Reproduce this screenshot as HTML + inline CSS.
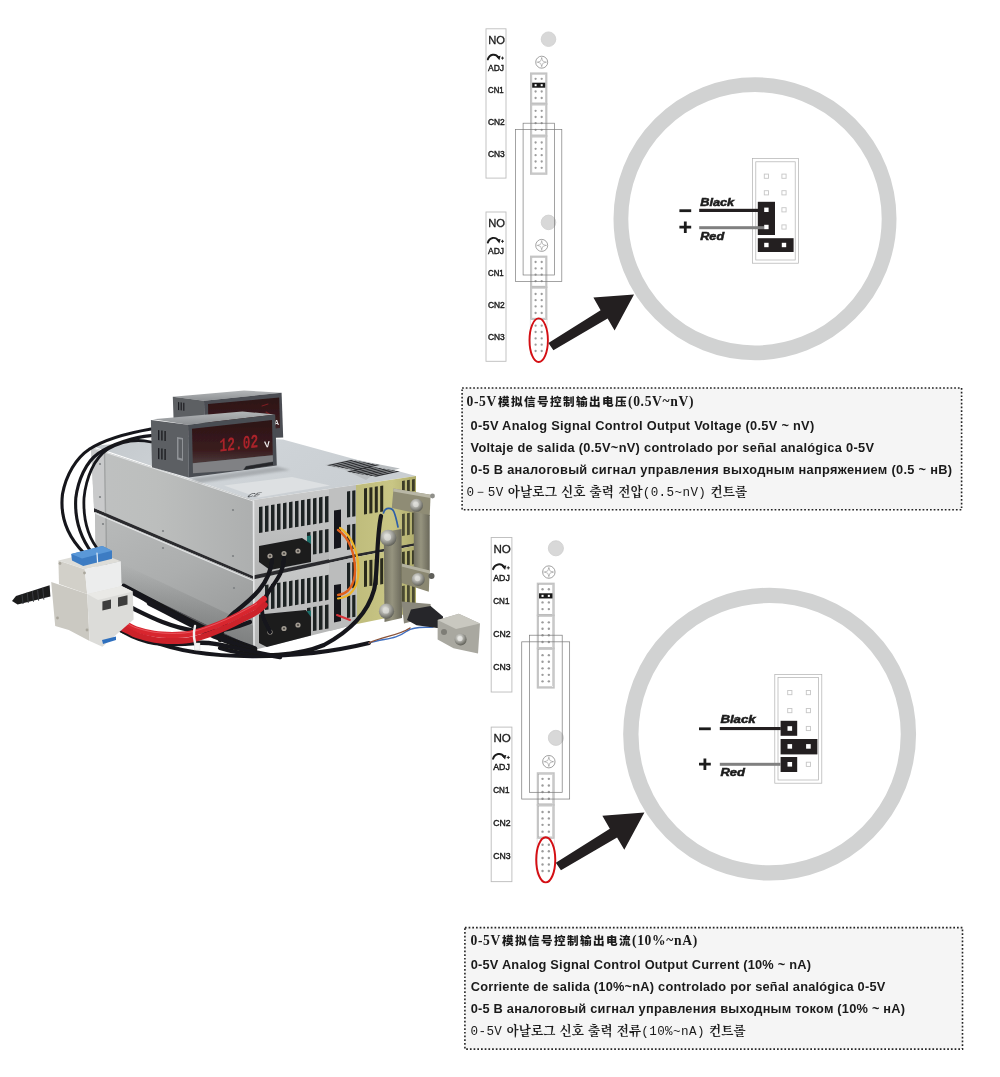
<!DOCTYPE html>
<html lang="en">
<head>
<meta charset="utf-8">
<title>0-5V Analog Signal Control</title>
<style>
html,body{margin:0;padding:0;background:#fff;}
body{width:1000px;height:1077px;position:relative;overflow:hidden;font-family:"Liberation Sans","Noto Sans CJK SC",sans-serif;}
#art{position:absolute;left:0;top:0;width:1000px;height:1077px;}
.box{position:absolute;opacity:0.999;}
.box div{position:absolute;white-space:nowrap;color:#1a1a1a;line-height:16px;height:16px;}
.zh{font-family:"Liberation Serif","Noto Sans CJK SC",serif;font-weight:bold;font-size:13.6px;left:4px;letter-spacing:0.65px;}
.zh b{font-family:"Noto Sans CJK SC",sans-serif;font-weight:900;letter-spacing:1.4px;font-size:11.6px;margin-left:1px;}
.en{font-family:"Liberation Sans",sans-serif;font-weight:bold;font-size:12.8px;left:8px;letter-spacing:0.3px;}
.ko{font-family:"Liberation Mono","Noto Serif CJK SC","NanumGothic",serif;font-weight:bold;font-size:12.6px;left:4px;letter-spacing:0.1px;word-spacing:-3.6px;}
.ko i{font-style:normal;font-weight:normal;font-family:"Liberation Mono",monospace;letter-spacing:0.4px;}
</style>
</head>
<body>
<svg id="art" width="1000" height="1077" viewBox="0 0 1000 1077">
<defs>
<!--PDEFS-->
<linearGradient id="gSide" x1="0" y1="0" x2="1" y2="0"><stop offset="0" stop-color="#bfc1c1"/><stop offset="0.4" stop-color="#bcbebd"/><stop offset="1" stop-color="#adafaf"/></linearGradient>
<linearGradient id="gSide2" x1="0" y1="0" x2="0.6" y2="1"><stop offset="0" stop-color="#b9bbbb"/><stop offset="0.55" stop-color="#acaeae"/><stop offset="1" stop-color="#9a9c9c"/></linearGradient>
<linearGradient id="gTop" x1="0" y1="0" x2="1" y2="0.3"><stop offset="0" stop-color="#c3c8cc"/><stop offset="0.5" stop-color="#cfd4d8"/><stop offset="1" stop-color="#c9ced2"/></linearGradient>
<linearGradient id="gFront" x1="0" y1="0" x2="0" y2="1"><stop offset="0" stop-color="#c9caca"/><stop offset="1" stop-color="#b3b4b4"/></linearGradient>
<linearGradient id="gYel" x1="0" y1="0" x2="1" y2="0"><stop offset="0" stop-color="#bfbc7c"/><stop offset="0.6" stop-color="#c9c685"/><stop offset="1" stop-color="#aeab6a"/></linearGradient>
<linearGradient id="gBar" x1="0" y1="0" x2="1" y2="0"><stop offset="0" stop-color="#716f60"/><stop offset="0.45" stop-color="#96947f"/><stop offset="1" stop-color="#6a685a"/></linearGradient>
<linearGradient id="gMeterTop" x1="0" y1="0" x2="0" y2="1"><stop offset="0" stop-color="#b3b6b8"/><stop offset="1" stop-color="#8d9093"/></linearGradient>
<linearGradient id="gDisp" x1="0" y1="0" x2="0" y2="1"><stop offset="0" stop-color="#2c1416"/><stop offset="0.7" stop-color="#3a1c1e"/><stop offset="1" stop-color="#4a3a3a"/></linearGradient>
<radialGradient id="gBolt" cx="0.4" cy="0.35" r="0.7"><stop offset="0" stop-color="#e8e8e4"/><stop offset="0.5" stop-color="#a6a6a0"/><stop offset="1" stop-color="#57574f"/></radialGradient>
<filter id="soft" x="-5%" y="-5%" width="110%" height="110%"><feGaussianBlur stdDeviation="0.45"/></filter>
<filter id="soft2" x="-20%" y="-20%" width="140%" height="140%"><feGaussianBlur stdDeviation="1.2"/></filter>
<!--/PDEFS-->
<g id="strip"><rect x="486" y="28.8" width="20" height="149.3" fill="#fff" stroke="#bdbdbd" stroke-width="0.9"/>
<text x="488.2" y="43.6" font-size="11.2" fill="#1c1c1c" stroke="#1c1c1c" stroke-width="0.3" textLength="16.8" lengthAdjust="spacingAndGlyphs">NO</text>
<path d="M487.8 59.400000000000006 C489.5 54.2,495.5 53.0,498.3 57.400000000000006" fill="none" stroke="#1c1c1c" stroke-width="1.9" stroke-linecap="round"/>
<path d="M496.4 56.400000000000006 L500.6 55.8 L499.4 60.2 Z" fill="#1c1c1c"/>
<path d="M501 58.1 h3 M502.5 56.6 v3" stroke="#1c1c1c" stroke-width="0.9" fill="none"/>
<text x="488" y="70.6" font-size="8.5" fill="#1c1c1c" stroke="#1c1c1c" stroke-width="0.4" textLength="16" lengthAdjust="spacingAndGlyphs">ADJ</text>
<text x="488" y="92.6" font-size="8.4" fill="#1c1c1c" stroke="#1c1c1c" stroke-width="0.4" textLength="15.6" lengthAdjust="spacingAndGlyphs">CN1</text>
<text x="488" y="124.6" font-size="8.4" fill="#1c1c1c" stroke="#1c1c1c" stroke-width="0.4" textLength="16.8" lengthAdjust="spacingAndGlyphs">CN2</text>
<text x="488" y="156.6" font-size="8.4" fill="#1c1c1c" stroke="#1c1c1c" stroke-width="0.4" textLength="16.8" lengthAdjust="spacingAndGlyphs">CN3</text><rect x="486" y="212" width="20" height="149.3" fill="#fff" stroke="#bdbdbd" stroke-width="0.9"/>
<text x="488.2" y="226.8" font-size="11.2" fill="#1c1c1c" stroke="#1c1c1c" stroke-width="0.3" textLength="16.8" lengthAdjust="spacingAndGlyphs">NO</text>
<path d="M487.8 242.6 C489.5 237.4,495.5 236.2,498.3 240.6" fill="none" stroke="#1c1c1c" stroke-width="1.9" stroke-linecap="round"/>
<path d="M496.4 239.6 L500.6 239.0 L499.4 243.4 Z" fill="#1c1c1c"/>
<path d="M501 241.3 h3 M502.5 239.8 v3" stroke="#1c1c1c" stroke-width="0.9" fill="none"/>
<text x="488" y="253.8" font-size="8.5" fill="#1c1c1c" stroke="#1c1c1c" stroke-width="0.4" textLength="16" lengthAdjust="spacingAndGlyphs">ADJ</text>
<text x="488" y="275.8" font-size="8.4" fill="#1c1c1c" stroke="#1c1c1c" stroke-width="0.4" textLength="15.6" lengthAdjust="spacingAndGlyphs">CN1</text>
<text x="488" y="307.8" font-size="8.4" fill="#1c1c1c" stroke="#1c1c1c" stroke-width="0.4" textLength="16.8" lengthAdjust="spacingAndGlyphs">CN2</text>
<text x="488" y="339.8" font-size="8.4" fill="#1c1c1c" stroke="#1c1c1c" stroke-width="0.4" textLength="16.8" lengthAdjust="spacingAndGlyphs">CN3</text><circle cx="548.5" cy="39.20" r="7.3" fill="#d8d8d8" stroke="#cfcfcf" stroke-width="0.8"/>
<circle cx="541.7" cy="62.20" r="6" fill="#fff" stroke="#8c8c8c" stroke-width="0.8"/>
<path d="M541.7 58.20 l1.1 2.9 l2.9 1.1 l-2.9 1.1 l-1.1 2.9 l-1.1 -2.9 l-2.9 -1.1 l2.9 -1.1 Z" fill="#fff" stroke="#9a9a9a" stroke-width="0.6"/>
<path d="M541.7 57.00 v2 M541.7 65.40 v2 M536.5 62.20 h2 M544.9 62.20 h2" stroke="#9a9a9a" stroke-width="0.6"/>
<rect x="530.8" y="73.20" width="15.8" height="30.8" fill="#fff" stroke="#c4c4c4" stroke-width="1.6"/>
<rect x="530.8" y="104.00" width="15.8" height="32" fill="#fff" stroke="#c4c4c4" stroke-width="1.6"/>
<rect x="531.9" y="74.30" width="13.6" height="28.6" fill="none" stroke="#9b9b9b" stroke-width="0.4"/>
<rect x="531.9" y="105.10" width="13.6" height="29.8" fill="none" stroke="#9b9b9b" stroke-width="0.4"/><rect x="530.8" y="136.00" width="15.8" height="38" fill="#fff" stroke="#c4c4c4" stroke-width="1.6"/>
<rect x="531.9" y="137.10" width="13.6" height="35.8" fill="none" stroke="#9b9b9b" stroke-width="0.4"/><circle cx="535.60" cy="78.80" r="1.15" fill="#9c9c9c"/><circle cx="541.70" cy="78.80" r="1.15" fill="#9c9c9c"/><circle cx="535.60" cy="85.20" r="1.15" fill="#9c9c9c"/><circle cx="541.70" cy="85.20" r="1.15" fill="#9c9c9c"/><circle cx="535.60" cy="91.50" r="1.15" fill="#9c9c9c"/><circle cx="541.70" cy="91.50" r="1.15" fill="#9c9c9c"/><circle cx="535.60" cy="98.00" r="1.15" fill="#9c9c9c"/><circle cx="541.70" cy="98.00" r="1.15" fill="#9c9c9c"/><circle cx="535.60" cy="110.80" r="1.15" fill="#9c9c9c"/><circle cx="541.70" cy="110.80" r="1.15" fill="#9c9c9c"/><circle cx="535.60" cy="117.00" r="1.15" fill="#9c9c9c"/><circle cx="541.70" cy="117.00" r="1.15" fill="#9c9c9c"/><circle cx="535.60" cy="123.20" r="1.15" fill="#9c9c9c"/><circle cx="541.70" cy="123.20" r="1.15" fill="#9c9c9c"/><circle cx="535.60" cy="129.80" r="1.15" fill="#9c9c9c"/><circle cx="541.70" cy="129.80" r="1.15" fill="#9c9c9c"/><circle cx="535.60" cy="142.50" r="1.15" fill="#9c9c9c"/><circle cx="541.70" cy="142.50" r="1.15" fill="#9c9c9c"/><circle cx="535.60" cy="148.80" r="1.15" fill="#9c9c9c"/><circle cx="541.70" cy="148.80" r="1.15" fill="#9c9c9c"/><circle cx="535.60" cy="155.20" r="1.15" fill="#9c9c9c"/><circle cx="541.70" cy="155.20" r="1.15" fill="#9c9c9c"/><circle cx="535.60" cy="161.50" r="1.15" fill="#9c9c9c"/><circle cx="541.70" cy="161.50" r="1.15" fill="#9c9c9c"/><circle cx="535.60" cy="167.80" r="1.15" fill="#9c9c9c"/><circle cx="541.70" cy="167.80" r="1.15" fill="#9c9c9c"/><rect x="532.2" y="82.70" width="13" height="5" fill="#1a1a1a"/>
<rect x="534.6" y="84.20" width="2" height="2" fill="#fff"/><rect x="540.7" y="84.20" width="2" height="2" fill="#fff"/><circle cx="548.5" cy="222.40" r="7.3" fill="#d8d8d8" stroke="#cfcfcf" stroke-width="0.8"/>
<circle cx="541.7" cy="245.40" r="6" fill="#fff" stroke="#8c8c8c" stroke-width="0.8"/>
<path d="M541.7 241.40 l1.1 2.9 l2.9 1.1 l-2.9 1.1 l-1.1 2.9 l-1.1 -2.9 l-2.9 -1.1 l2.9 -1.1 Z" fill="#fff" stroke="#9a9a9a" stroke-width="0.6"/>
<path d="M541.7 240.20 v2 M541.7 248.60 v2 M536.5 245.40 h2 M544.9 245.40 h2" stroke="#9a9a9a" stroke-width="0.6"/>
<rect x="530.8" y="256.40" width="15.8" height="30.8" fill="#fff" stroke="#c4c4c4" stroke-width="1.6"/>
<rect x="530.8" y="287.20" width="15.8" height="32" fill="#fff" stroke="#c4c4c4" stroke-width="1.6"/>
<rect x="531.9" y="257.50" width="13.6" height="28.6" fill="none" stroke="#9b9b9b" stroke-width="0.4"/>
<rect x="531.9" y="288.30" width="13.6" height="29.8" fill="none" stroke="#9b9b9b" stroke-width="0.4"/><path d="M530.4 319.20 V355.20 M547 319.20 V329.20" stroke="#dcdcdc" stroke-width="0.8" fill="none"/><circle cx="535.60" cy="262.00" r="1.15" fill="#9c9c9c"/><circle cx="541.70" cy="262.00" r="1.15" fill="#9c9c9c"/><circle cx="535.60" cy="268.40" r="1.15" fill="#9c9c9c"/><circle cx="541.70" cy="268.40" r="1.15" fill="#9c9c9c"/><circle cx="535.60" cy="274.70" r="1.15" fill="#9c9c9c"/><circle cx="541.70" cy="274.70" r="1.15" fill="#9c9c9c"/><circle cx="535.60" cy="281.20" r="1.15" fill="#9c9c9c"/><circle cx="541.70" cy="281.20" r="1.15" fill="#9c9c9c"/><circle cx="535.60" cy="294.00" r="1.15" fill="#9c9c9c"/><circle cx="541.70" cy="294.00" r="1.15" fill="#9c9c9c"/><circle cx="535.60" cy="300.20" r="1.15" fill="#9c9c9c"/><circle cx="541.70" cy="300.20" r="1.15" fill="#9c9c9c"/><circle cx="535.60" cy="306.40" r="1.15" fill="#9c9c9c"/><circle cx="541.70" cy="306.40" r="1.15" fill="#9c9c9c"/><circle cx="535.60" cy="313.00" r="1.15" fill="#9c9c9c"/><circle cx="541.70" cy="313.00" r="1.15" fill="#9c9c9c"/><circle cx="535.60" cy="325.70" r="1.15" fill="#9c9c9c"/><circle cx="541.70" cy="325.70" r="1.15" fill="#9c9c9c"/><circle cx="535.60" cy="332.00" r="1.15" fill="#9c9c9c"/><circle cx="541.70" cy="332.00" r="1.15" fill="#9c9c9c"/><circle cx="535.60" cy="338.40" r="1.15" fill="#9c9c9c"/><circle cx="541.70" cy="338.40" r="1.15" fill="#9c9c9c"/><circle cx="535.60" cy="344.70" r="1.15" fill="#9c9c9c"/><circle cx="541.70" cy="344.70" r="1.15" fill="#9c9c9c"/><circle cx="535.60" cy="351.00" r="1.15" fill="#9c9c9c"/><circle cx="541.70" cy="351.00" r="1.15" fill="#9c9c9c"/><rect x="515.5" y="129.6" width="46.3" height="151.9" fill="none" stroke="#7c7c7c" stroke-width="0.7"/>
<rect x="523.1" y="123.2" width="31.5" height="151.8" fill="none" stroke="#7c7c7c" stroke-width="0.7"/>
<ellipse cx="538.7" cy="340.2" rx="9.2" ry="21.8" fill="none" stroke="#d40f14" stroke-width="1.9"/>
<path d="M548.4 343 L600.6 310.3 L593.4 297.6 L634 294.5 L614.6 330.5 L607.6 318.6 L553.4 350.2 Z" fill="#231f20"/>
<circle cx="755" cy="218.8" r="134.1" fill="none" stroke="#d1d2d2" stroke-width="14.8"/></g>
</defs>
<!--BOXES-->
<g id="boxes" fill="#f5f5f5" stroke="#242424" stroke-width="1.6" stroke-dasharray="1.7 2.0">
<rect x="462.1" y="388" width="499.5" height="121.8"/>
<rect x="464.9" y="927.6" width="497.6" height="121.5"/>
</g>
<!--PHOTO-->
<g id="photo" filter="url(#soft)"><polygon points="92.0,446.0 253.0,500.0 416.0,476.0 283.0,439.4 200.0,436.0" fill="url(#gTop)" /><polygon points="91.0,447.0 253.0,500.0 253.0,576.0 94.0,508.0" fill="url(#gSide)" /><polygon points="94.0,508.0 253.0,576.0 253.0,579.0 94.0,512.0" fill="#2a2b2d" /><polygon points="95.0,512.0 253.0,579.0 254.0,647.0 122.0,584.0 96.0,566.0" fill="url(#gSide2)" /><polygon points="91.0,447.0 104.0,451.3 105.0,512.5 94.0,508.0" fill="#c9cacb" /><path d="M104.5 451.5 L105.5 512.5" fill="none" stroke="#a2a4a4" stroke-width="1.4" stroke-linecap="round" stroke-linejoin="round" /><polygon points="95.0,512.0 106.0,516.6 106.0,573.0 96.0,566.0" fill="#bfc0c0" /><path d="M106 516.8 L106.5 573" fill="none" stroke="#999b9b" stroke-width="1.2" stroke-linecap="round" stroke-linejoin="round" /><linearGradient id="gRefl" x1="0" y1="0" x2="-0.38" y2="1"><stop offset="0" stop-color="#6a6c6c" stop-opacity="0"/><stop offset="0.5" stop-color="#6a6c6c" stop-opacity="0.55"/><stop offset="1" stop-color="#3a3c3c" stop-opacity="0.95"/></linearGradient><polygon points="112.0,559.0 254.0,626.0 254.0,647.0 122.0,584.0 100.0,568.0" fill="url(#gRefl)" /><path d="M96 513.5 L253 580.5" fill="none" stroke="#e4e6e7" stroke-width="1.2" stroke-linecap="round" stroke-linejoin="round" /><path d="M92 448 L253 501" fill="none" stroke="#e1e3e4" stroke-width="1.0" stroke-linecap="round" stroke-linejoin="round" /><polygon points="122.0,584.0 254.0,647.0 254.0,652.0 150.0,606.0" fill="#2c2d2f" opacity="0.8"/><circle cx="100" cy="464" r="1.1" fill="#7d8083"/><circle cx="100" cy="497" r="1.1" fill="#7d8083"/><circle cx="163" cy="531" r="1.1" fill="#7d8083"/><circle cx="233" cy="510" r="1.1" fill="#7d8083"/><circle cx="233" cy="556" r="1.1" fill="#7d8083"/><circle cx="103" cy="524" r="1.1" fill="#7d8083"/><circle cx="163" cy="548" r="1.1" fill="#7d8083"/><circle cx="234" cy="588" r="1.1" fill="#7d8083"/><circle cx="234" cy="628" r="1.1" fill="#7d8083"/><polygon points="253.0,500.0 356.0,485.0 356.0,554.0 253.0,576.0" fill="url(#gFront)" /><polygon points="253.0,579.0 356.0,557.0 357.0,624.0 254.0,650.0" fill="url(#gFront)" /><polygon points="253.0,575.5 356.0,553.5 416.0,542.5 416.0,545.5 356.0,557.0 253.0,579.5" fill="#2b2c2e" /><path d="M253.5 501 L254 649" fill="none" stroke="#e6e7e8" stroke-width="1.6" stroke-linecap="round" stroke-linejoin="round" /><polygon points="356.0,485.0 416.0,476.0 416.0,543.0 356.0,554.0" fill="url(#gYel)" /><polygon points="356.0,557.0 416.0,545.5 416.0,612.0 357.0,624.0" fill="url(#gYel)" /><polygon points="329.0,489.0 356.0,485.0 356.0,554.0 329.0,560.0" fill="#bfc0c0" /><polygon points="329.0,563.0 356.0,557.0 357.0,624.0 330.0,631.0" fill="#bbbcbc" /><polygon points="259.0,507.0 262.5,506.4 262.5,532.4 259.0,533.0" fill="#1f2022" rx="1"/><polygon points="265.0,506.0 268.5,505.5 268.5,531.5 265.0,532.0" fill="#1f2022" rx="1"/><polygon points="271.0,505.1 274.5,504.5 274.5,530.5 271.0,531.1" fill="#1f2022" rx="1"/><polygon points="277.0,504.1 280.5,503.6 280.5,529.6 277.0,530.1" fill="#1f2022" rx="1"/><polygon points="283.0,503.2 286.5,502.6 286.5,528.6 283.0,529.2" fill="#1f2022" rx="1"/><polygon points="289.0,502.2 292.5,501.6 292.5,527.6 289.0,528.2" fill="#1f2022" rx="1"/><polygon points="295.0,501.2 298.5,500.7 298.5,526.7 295.0,527.2" fill="#1f2022" rx="1"/><polygon points="301.0,500.3 304.5,499.7 304.5,525.7 301.0,526.3" fill="#1f2022" rx="1"/><polygon points="307.0,499.3 310.5,498.8 310.5,524.8 307.0,525.3" fill="#1f2022" rx="1"/><polygon points="313.0,498.4 316.5,497.8 316.5,523.8 313.0,524.4" fill="#1f2022" rx="1"/><polygon points="319.0,497.4 322.5,496.8 322.5,522.8 319.0,523.4" fill="#1f2022" rx="1"/><polygon points="325.0,496.4 328.5,495.9 328.5,521.9 325.0,522.4" fill="#1f2022" rx="1"/><polygon points="307.0,532.5 310.5,531.9 310.5,554.9 307.0,555.5" fill="#1f2022" rx="1"/><polygon points="313.0,531.5 316.5,531.0 316.5,554.0 313.0,554.5" fill="#1f2022" rx="1"/><polygon points="319.0,530.6 322.5,530.0 322.5,553.0 319.0,553.6" fill="#1f2022" rx="1"/><polygon points="325.0,529.6 328.5,529.1 328.5,552.1 325.0,552.6" fill="#1f2022" rx="1"/><polygon points="265.0,585.0 268.5,584.4 268.5,609.4 265.0,610.0" fill="#1f2022" rx="1"/><polygon points="271.0,584.0 274.5,583.5 274.5,608.5 271.0,609.0" fill="#1f2022" rx="1"/><polygon points="277.0,583.1 280.5,582.5 280.5,607.5 277.0,608.1" fill="#1f2022" rx="1"/><polygon points="283.0,582.1 286.5,581.6 286.5,606.6 283.0,607.1" fill="#1f2022" rx="1"/><polygon points="289.0,581.2 292.5,580.6 292.5,605.6 289.0,606.2" fill="#1f2022" rx="1"/><polygon points="295.0,580.2 298.5,579.6 298.5,604.6 295.0,605.2" fill="#1f2022" rx="1"/><polygon points="301.0,579.2 304.5,578.7 304.5,603.7 301.0,604.2" fill="#1f2022" rx="1"/><polygon points="307.0,578.3 310.5,577.7 310.5,602.7 307.0,603.3" fill="#1f2022" rx="1"/><polygon points="313.0,577.3 316.5,576.8 316.5,601.8 313.0,602.3" fill="#1f2022" rx="1"/><polygon points="319.0,576.4 322.5,575.8 322.5,600.8 319.0,601.4" fill="#1f2022" rx="1"/><polygon points="325.0,575.4 328.5,574.8 328.5,599.8 325.0,600.4" fill="#1f2022" rx="1"/><polygon points="307.0,608.0 310.5,607.4 310.5,631.4 307.0,632.0" fill="#1f2022" rx="1"/><polygon points="313.0,607.0 316.5,606.5 316.5,630.5 313.0,631.0" fill="#1f2022" rx="1"/><polygon points="319.0,606.1 322.5,605.5 322.5,629.5 319.0,630.1" fill="#1f2022" rx="1"/><polygon points="325.0,605.1 328.5,604.6 328.5,628.6 325.0,629.1" fill="#1f2022" rx="1"/><polygon points="307.0,536.0 311.0,535.4 311.0,552.0 307.0,553.0" fill="#1f6f6a" /><polygon points="307.0,611.0 311.0,610.4 311.0,628.0 307.0,629.0" fill="#1f6f6a" /><polygon points="334.0,510.5 341.0,509.4 341.0,547.5 334.0,549.0" fill="#17181a" /><polygon points="334.0,585.0 341.0,584.0 341.0,621.0 334.0,622.5" fill="#17181a" /><polygon points="347.0,491.5 350.2,491.0 350.2,517.0 347.0,517.5" fill="#1f2022" rx="1"/><polygon points="352.2,490.7 355.4,490.2 355.4,516.2 352.2,516.7" fill="#1f2022" rx="1"/><polygon points="347.0,525.0 350.2,524.5 350.2,549.5 347.0,550.0" fill="#1f2022" rx="1"/><polygon points="352.2,524.2 355.4,523.7 355.4,548.7 352.2,549.2" fill="#1f2022" rx="1"/><polygon points="347.0,563.0 350.2,562.5 350.2,588.5 347.0,589.0" fill="#1f2022" rx="1"/><polygon points="352.2,562.2 355.4,561.7 355.4,587.7 352.2,588.2" fill="#1f2022" rx="1"/><polygon points="347.0,596.0 350.2,595.5 350.2,617.5 347.0,618.0" fill="#1f2022" rx="1"/><polygon points="352.2,595.2 355.4,594.7 355.4,616.7 352.2,617.2" fill="#1f2022" rx="1"/><polygon points="364.0,488.5 367.0,488.0 367.0,514.0 364.0,514.5" fill="#2a2a1e" rx="1"/><polygon points="369.4,487.6 372.4,487.2 372.4,513.2 369.4,513.6" fill="#2a2a1e" rx="1"/><polygon points="374.8,486.8 377.8,486.3 377.8,512.3 374.8,512.8" fill="#2a2a1e" rx="1"/><polygon points="380.2,485.9 383.2,485.4 383.2,511.4 380.2,511.9" fill="#2a2a1e" rx="1"/><polygon points="402.0,481.0 404.8,480.6 404.8,492.6 402.0,493.0" fill="#3a3a28" rx="1"/><polygon points="407.0,480.2 409.8,479.8 409.8,491.8 407.0,492.2" fill="#3a3a28" rx="1"/><polygon points="412.0,479.4 414.8,479.0 414.8,491.0 412.0,491.4" fill="#3a3a28" rx="1"/><polygon points="364.0,561.0 367.0,560.5 367.0,586.5 364.0,587.0" fill="#2a2a1e" rx="1"/><polygon points="369.4,560.1 372.4,559.7 372.4,585.7 369.4,586.1" fill="#2a2a1e" rx="1"/><polygon points="374.8,559.3 377.8,558.8 377.8,584.8 374.8,585.3" fill="#2a2a1e" rx="1"/><polygon points="380.2,558.4 383.2,557.9 383.2,583.9 380.2,584.4" fill="#2a2a1e" rx="1"/><polygon points="402.0,552.0 404.8,551.6 404.8,565.6 402.0,566.0" fill="#3a3a28" rx="1"/><polygon points="407.0,551.2 409.8,550.8 409.8,564.8 407.0,565.2" fill="#3a3a28" rx="1"/><polygon points="412.0,550.4 414.8,550.0 414.8,564.0 412.0,564.4" fill="#3a3a28" rx="1"/><polygon points="402.0,514.0 404.8,513.6 404.8,535.6 402.0,536.0" fill="#4a4a32" rx="1"/><polygon points="407.0,513.2 409.8,512.8 409.8,534.8 407.0,535.2" fill="#4a4a32" rx="1"/><polygon points="412.0,512.4 414.8,512.0 414.8,534.0 412.0,534.4" fill="#4a4a32" rx="1"/><polygon points="402.0,586.0 404.8,585.6 404.8,605.6 402.0,606.0" fill="#4a4a32" rx="1"/><polygon points="407.0,585.2 409.8,584.8 409.8,604.8 407.0,605.2" fill="#4a4a32" rx="1"/><polygon points="412.0,584.4 414.8,584.0 414.8,604.0 412.0,604.4" fill="#4a4a32" rx="1"/><polygon points="325.0,465.0 352.0,459.0 400.0,468.5 372.0,475.5 366.0,480.0 345.0,470.0" fill="#b9bdc0" /><polygon points="327.0,465.2 351.0,460.0 354.0,460.6 330.0,465.8" fill="#2c2d30" /><polygon points="331.3,465.9 355.3,460.8 358.3,461.3 334.3,466.6" fill="#2c2d30" /><polygon points="335.6,466.7 359.6,461.5 362.6,462.1 338.6,467.3" fill="#2c2d30" /><polygon points="339.9,467.4 363.9,462.2 366.9,462.8 342.9,468.1" fill="#2c2d30" /><polygon points="344.2,468.2 368.2,463.0 371.2,463.6 347.2,468.8" fill="#2c2d30" /><polygon points="348.5,468.9 372.5,463.8 375.5,464.3 351.5,469.6" fill="#2c2d30" /><polygon points="352.8,469.7 376.8,464.5 379.8,465.1 355.8,470.3" fill="#2c2d30" /><polygon points="347.0,471.6 371.0,466.4 374.0,467.0 350.0,472.2" fill="#2c2d30" /><polygon points="351.3,472.4 375.3,467.2 378.3,467.8 354.3,473.0" fill="#2c2d30" /><polygon points="355.6,473.1 379.6,467.9 382.6,468.5 358.6,473.7" fill="#2c2d30" /><polygon points="359.9,473.9 383.9,468.7 386.9,469.2 362.9,474.5" fill="#2c2d30" /><polygon points="364.2,474.6 388.2,469.4 391.2,470.0 367.2,475.2" fill="#2c2d30" /><polygon points="368.5,475.4 392.5,470.2 395.5,470.8 371.5,476.0" fill="#2c2d30" /><polygon points="372.8,476.1 396.8,470.9 399.8,471.5 375.8,476.7" fill="#2c2d30" /><polygon points="224.0,485.5 292.0,477.0 330.0,485.5 258.0,497.5" fill="#dde0e2" /><text x="0" y="0" font-family="Liberation Sans, sans-serif" font-size="9" font-weight="bold" fill="#3a3d40" transform="translate(246,497.5) rotate(-7) skewX(-55) scale(1,0.55)" opacity="0.85">CE</text><polygon points="259.0,546.0 302.0,538.0 311.0,544.0 311.0,562.0 270.0,570.0 259.0,562.0" fill="#1c1d1f" /><polygon points="259.0,614.6 305.8,610.0 311.0,617.0 311.0,635.4 266.8,647.0 259.0,643.0" fill="#1c1d1f" /><circle cx="270" cy="556" r="2.6" fill="#a39c92"/><circle cx="270" cy="556" r="1.1" fill="#4a4642"/><circle cx="284" cy="553.5" r="2.6" fill="#a39c92"/><circle cx="284" cy="553.5" r="1.1" fill="#4a4642"/><circle cx="298" cy="551" r="2.6" fill="#a39c92"/><circle cx="298" cy="551" r="1.1" fill="#4a4642"/><circle cx="270" cy="632" r="2.6" fill="#a39c92"/><circle cx="270" cy="632" r="1.1" fill="#4a4642"/><circle cx="284" cy="628.5" r="2.6" fill="#a39c92"/><circle cx="284" cy="628.5" r="1.1" fill="#4a4642"/><circle cx="298" cy="625" r="2.6" fill="#a39c92"/><circle cx="298" cy="625" r="1.1" fill="#4a4642"/><path d="M338 530 C350 538,355 555,355 570 C355 585,348 594,338 595" fill="none" stroke="#e2601c" stroke-width="2.4" stroke-linecap="round" stroke-linejoin="round" /><path d="M340 528 C353 536,358.5 555,358.5 571 C358.5 588,350 598,338 598.5" fill="none" stroke="#efb52a" stroke-width="2.2" stroke-linecap="round" stroke-linejoin="round" /><path d="M337 615 L350 620" fill="none" stroke="#d8323a" stroke-width="2" stroke-linecap="round" stroke-linejoin="round" /><polygon points="393.5,488.5 430.6,494.7 429.7,515.9 391.8,508.0" fill="#8f8c74" /><polygon points="393.5,488.5 430.6,494.7 430.4,498.0 393.2,491.6" fill="#b9b7a6" /><polygon points="413.8,512.0 429.7,515.0 429.7,571.0 413.8,567.0" fill="url(#gBar)" /><polygon points="401.5,563.5 429.7,570.6 428.8,591.8 401.5,583.0" fill="#8b8872" /><polygon points="401.5,563.5 429.7,570.6 429.5,573.6 401.5,566.5" fill="#b3b1a0" /><polygon points="383.8,532.0 401.5,529.0 402.0,618.0 384.5,622.0" fill="url(#gBar)" /><polygon points="401.5,601.5 430.6,604.0 430.6,616.5 404.0,623.5" fill="#8a887c" /><circle cx="416.5" cy="505.3" r="6.5" fill="url(#gBolt)"/><circle cx="415.9" cy="504.5" r="2.73" fill="#deded9" opacity="0.75"/><circle cx="388.2" cy="538" r="8.2" fill="url(#gBolt)"/><circle cx="387.59999999999997" cy="537.2" r="3.4439999999999995" fill="#deded9" opacity="0.75"/><circle cx="418.2" cy="579.4" r="6.5" fill="url(#gBolt)"/><circle cx="417.59999999999997" cy="578.6" r="2.73" fill="#deded9" opacity="0.75"/><circle cx="386.5" cy="611.2" r="7.6" fill="url(#gBolt)"/><circle cx="385.9" cy="610.4000000000001" r="3.1919999999999997" fill="#deded9" opacity="0.75"/><circle cx="432.5" cy="496" r="2.4" fill="#8f8f8a"/><circle cx="431.5" cy="576" r="3" fill="#5e5e5a"/><path d="M381 516 C376 540,378 575,374 590 C368 612,352 630,324 645 C300 655,260 660,220 648" fill="none" stroke="#16171a" stroke-width="4.2" stroke-linecap="round" stroke-linejoin="round" /><path d="M383.5 513 C385 507,392 507,394 512 C396 517,397 522,398 527" fill="none" stroke="#2d5ea8" stroke-width="1.7" stroke-linecap="round" stroke-linejoin="round" /><path d="M150 640 C200 662,300 660,369 643" fill="none" stroke="#16171a" stroke-width="4.0" stroke-linecap="round" stroke-linejoin="round" /><path d="M369 643 C385 638,395 640,407 631 C415 626,425 628,433 627" fill="none" stroke="#3f6fc0" stroke-width="1.5" stroke-linecap="round" stroke-linejoin="round" /><path d="M369 643 C383 636,398 636,410 628" fill="none" stroke="#8a5238" stroke-width="1.4" stroke-linecap="round" stroke-linejoin="round" /><polygon points="411.0,609.4 430.6,605.9 443.0,616.5 443.0,628.8 416.5,625.3 407.0,620.0" fill="#26272a" /><polygon points="437.6,620.0 458.8,613.8 480.0,623.5 478.0,653.5 453.5,648.2 437.6,639.4" fill="#a9a8a0" /><polygon points="437.6,620.0 458.8,613.8 480.0,623.5 456.0,629.0" fill="#c9c8c0" /><circle cx="460.6" cy="639.4" r="6" fill="url(#gBolt)"/><circle cx="460" cy="638.6" r="2.6" fill="#e9e9e6" opacity="0.8"/><circle cx="444" cy="632" r="3" fill="#7e7d76"/><path d="M272 560 C270 585,250 600,235 612 C225 620,222 630,220 640" fill="none" stroke="#16171a" stroke-width="4.2" stroke-linecap="round" stroke-linejoin="round" /><path d="M284 558 C284 580,262 592,262 610 C262 620,268 626,270 632" fill="none" stroke="#16171a" stroke-width="4.0" stroke-linecap="round" stroke-linejoin="round" /><path d="M124 587 C150 601,175 614,200 627 C215 634,235 643,254 649" fill="none" stroke="#16171a" stroke-width="6.5" stroke-linecap="round" stroke-linejoin="round" /><path d="M150 603 C170 613,190 624,215 636 C225 640,240 646,254 651" fill="none" stroke="#16171a" stroke-width="6.0" stroke-linecap="round" stroke-linejoin="round" /><path d="M128 606 C145 614,165 626,196 631 C215 634,235 628,250 622" fill="none" stroke="#16171a" stroke-width="4.2" stroke-linecap="round" stroke-linejoin="round" /><path d="M118 628 C135 640,155 647,196 643 C215 641,240 650,280 657" fill="none" stroke="#16171a" stroke-width="4.4" stroke-linecap="round" stroke-linejoin="round" /><path d="M112 626 C120 632,128 634,136 636" fill="none" stroke="#16171a" stroke-width="3.0" stroke-linecap="round" stroke-linejoin="round" /><path d="M106.0 611.0 C108.0 612.5,114.5 618.0,118.0 620.3 C121.5 622.6,124.0 623.3,127.0 624.8 C130.0 626.3,131.5 627.8,136.0 629.3 C140.5 630.8,148.0 632.8,154.0 633.8 C160.0 634.8,166.0 635.0,172.0 635.0 C178.0 635.0,184.0 634.9,190.0 633.8 C196.0 632.7,202.0 630.5,208.0 628.4 C214.0 626.3,220.0 623.9,226.0 621.2 C232.0 618.5,238.9 614.8,244.0 612.2 C249.1 609.6,253.3 607.6,256.6 605.4 C259.9 603.2,262.8 600.1,264.0 599.0" fill="none" stroke="#d8252f" stroke-width="6.0" stroke-linecap="round" stroke-linejoin="round" /><path d="M106.8 617.0 C108.8 618.5,115.3 624.0,118.8 626.3 C122.3 628.6,124.8 629.3,127.8 630.8 C130.8 632.3,132.3 633.8,136.8 635.3 C141.3 636.8,148.8 638.8,154.8 639.8 C160.8 640.8,166.8 641.0,172.8 641.0 C178.8 641.0,184.8 640.9,190.8 639.8 C196.8 638.7,202.8 636.5,208.8 634.4 C214.8 632.3,220.8 629.9,226.8 627.2 C232.8 624.5,239.7 620.8,244.8 618.2 C249.9 615.6,254.1 613.6,257.4 611.4 C260.7 609.2,263.6 606.1,264.8 605.0" fill="none" stroke="#cc212c" stroke-width="5.8" stroke-linecap="round" stroke-linejoin="round" /><path d="M118.0 618.7 C119.5 619.4,124.0 621.7,127.0 623.2 C130.0 624.7,131.5 626.2,136.0 627.7 C140.5 629.2,148.0 631.2,154.0 632.2 C160.0 633.1,166.0 633.4,172.0 633.4 C178.0 633.4,184.0 633.3,190.0 632.2 C196.0 631.1,202.0 628.9,208.0 626.8 C214.0 624.7,220.0 622.3,226.0 619.6 C232.0 616.9,238.9 613.2,244.0 610.6 C249.1 608.0,254.5 604.9,256.6 603.8" fill="none" stroke="#ef6a70" stroke-width="1.0" stroke-linecap="round" stroke-linejoin="round" opacity="0.7"/><path d="M110 613 C116 616,118 622,114 628 M116 612 C122 616,124 622,121 630" fill="none" stroke="#3b62c4" stroke-width="1.1" stroke-linecap="round" stroke-linejoin="round" /><path d="M195 626 C193 634,194 642,197 649" fill="none" stroke="#f1f1f1" stroke-width="2.4" stroke-linecap="round" stroke-linejoin="round" /><rect x="194.5" y="643" width="5.5" height="7" fill="#f4f4f4" stroke="#cfcfcf" stroke-width="0.4"/><path d="M151 429 C128 433,104 440,89.6 449 C76 458,66 475,62.5 494 C60 515,66 535,84 553" fill="none" stroke="#16171a" stroke-width="3.1" stroke-linecap="round" stroke-linejoin="round" /><path d="M151 435.6 C134 437,112 444,98 453.6 C86 462,78 480,75.8 498 C74.5 518,80 537,92 553" fill="none" stroke="#16171a" stroke-width="3.1" stroke-linecap="round" stroke-linejoin="round" /><path d="M151 442 C138 439,122 441,108 449 C94 458,86 478,84 498 C83 520,88 538,100 552" fill="none" stroke="#16171a" stroke-width="2.8" stroke-linecap="round" stroke-linejoin="round" /><polygon points="172.8,396.8 244.0,390.4 281.6,392.8 204.0,400.8" fill="url(#gMeterTop)" /><polygon points="172.8,396.8 204.0,400.8 204.8,424.0 173.6,420.0" fill="#5d6064" /><polygon points="204.0,400.8 281.6,392.8 283.2,437.6 204.8,440.0" fill="#4b4e53" /><polygon points="208.0,404.0 279.2,397.6 280.0,428.0 208.5,436.0" fill="url(#gDisp)" /><path d="M262 406 l6 -2 M266 412 l5 3" fill="none" stroke="#8d2025" stroke-width="1.1" stroke-linecap="round" stroke-linejoin="round" opacity="0.8"/><text x="274" y="425" font-family="Liberation Sans, sans-serif" font-size="7" font-weight="bold" fill="#e8e8e8">A</text><rect x="178.0" y="402" width="1.2" height="8" fill="#1e1f22" transform="skewY(7)" transform-origin="178 402"/><rect x="180.6" y="402" width="1.2" height="8" fill="#1e1f22" transform="skewY(7)" transform-origin="178 402"/><rect x="183.2" y="402" width="1.2" height="8" fill="#1e1f22" transform="skewY(7)" transform-origin="178 402"/><polygon points="152.8,419.2 242.4,411.5 275.2,414.4 188.0,424.8" fill="url(#gMeterTop)" /><polygon points="150.9,420.0 188.0,424.8 188.8,477.6 152.0,467.2" fill="#5b5e63" /><polygon points="188.0,424.8 275.2,414.4 276.8,465.6 188.8,477.6" fill="#4a4d52" /><polygon points="192.0,428.8 272.0,420.0 272.8,455.2 192.8,463.2" fill="url(#gDisp)" /><polygon points="192.8,463.2 272.8,455.2 273.0,461.5 246.0,466.0 243.0,470.0 193.0,473.2" fill="#808184" /><polygon points="246.0,466.5 273.0,462.0 273.0,465.0 244.0,470.0" fill="#26282b" /><polygon points="158.0,430.0 159.4,430.2 159.4,440.2 158.0,440.0" fill="#1d1e21" /><polygon points="158.0,448.0 159.4,448.2 159.4,459.2 158.0,459.0" fill="#1d1e21" /><polygon points="161.2,430.4 162.6,430.6 162.6,440.6 161.2,440.4" fill="#1d1e21" /><polygon points="161.2,448.4 162.6,448.6 162.6,459.6 161.2,459.4" fill="#1d1e21" /><polygon points="164.4,430.9 165.8,431.1 165.8,441.1 164.4,440.9" fill="#1d1e21" /><polygon points="164.4,448.9 165.8,449.1 165.8,460.1 164.4,459.9" fill="#1d1e21" /><polygon points="177.0,437.0 183.0,438.0 183.0,461.0 177.0,459.5" fill="#8f9296" /><polygon points="178.5,439.0 182.0,439.6 182.0,458.5 178.5,457.6" fill="#5b5e63" /><text x="0" y="0" font-family="Liberation Mono, monospace" font-size="19" font-weight="bold" fill="#b4252b" transform="translate(219.5,451.5) rotate(-6.3) skewX(-6)" textLength="39" lengthAdjust="spacingAndGlyphs" opacity="0.92">12.02</text><text x="264.5" y="447.5" font-family="Liberation Sans, sans-serif" font-size="8.5" font-weight="bold" fill="#f0f0f0" transform="rotate(-5 264 447)">V</text><polygon points="190.0,478.5 277.0,466.5 290.0,470.0 200.0,483.0" fill="#8a8e92" opacity="0.55" filter="url(#soft2)"/><polygon points="16.0,596.0 49.6,585.2 50.4,596.6 17.6,604.4 12.0,601.0" fill="#1b1c1e" /><path d="M22.0 594.6 L23.0 603.6" fill="none" stroke="#3c3d40" stroke-width="1.0" stroke-linecap="round" stroke-linejoin="round" /><path d="M27.2 593.0 L28.2 602.5" fill="none" stroke="#3c3d40" stroke-width="1.0" stroke-linecap="round" stroke-linejoin="round" /><path d="M32.4 591.4 L33.4 601.4" fill="none" stroke="#3c3d40" stroke-width="1.0" stroke-linecap="round" stroke-linejoin="round" /><path d="M37.6 589.8000000000001 L38.6 600.3000000000001" fill="none" stroke="#3c3d40" stroke-width="1.0" stroke-linecap="round" stroke-linejoin="round" /><path d="M42.8 588.2 L43.8 599.2" fill="none" stroke="#3c3d40" stroke-width="1.0" stroke-linecap="round" stroke-linejoin="round" /><polygon points="51.2,582.0 87.2,594.0 89.6,641.0 68.8,630.0 55.2,626.0" fill="#cbc9c2" /><polygon points="58.4,560.4 84.8,569.2 87.2,594.0 59.0,584.0" fill="#d2d0c9" /><polygon points="58.4,560.4 96.0,551.6 120.8,561.2 84.8,569.2" fill="#deddd8" /><polygon points="84.8,569.2 120.8,561.2 121.6,586.0 87.2,594.0" fill="#eceded" /><polygon points="87.2,594.0 121.6,586.0 132.8,591.6 133.6,619.6 102.4,646.8 89.6,641.0" fill="#dcdcd9" /><polygon points="87.2,594.0 121.6,586.0 132.8,591.6 98.0,600.0" fill="#e9e9e6" /><polygon points="102.4,601.5 111.0,599.6 111.0,608.5 102.4,610.5" fill="#3e3e3c" /><polygon points="118.0,597.5 127.5,595.3 127.5,604.5 118.0,606.8" fill="#3e3e3c" /><polygon points="71.2,554.0 102.4,546.0 112.0,550.8 112.0,558.8 83.2,566.0 72.0,560.4" fill="#3c7cc3" /><polygon points="71.2,554.0 102.4,546.0 112.0,550.8 82.0,558.6" fill="#5a98d8" /><path d="M97 553 L97.6 562.6" fill="none" stroke="#e8eef5" stroke-width="1.2" stroke-linecap="round" stroke-linejoin="round" /><polygon points="102.0,640.0 116.0,636.5 116.0,640.0 103.0,644.0" fill="#2f6fbe" /><circle cx="60" cy="563.5" r="1.4" fill="#a9a69c"/><circle cx="84.5" cy="573" r="1.4" fill="#a9a69c"/><circle cx="57.5" cy="618" r="1.4" fill="#a9a69c"/><circle cx="87" cy="630" r="1.4" fill="#a9a69c"/></g>
<!--DIAGRAM1-->
<g id="d1" font-family="Liberation Sans, sans-serif" opacity="0.999"><use href="#strip"/><rect x="752.6" y="158.6" width="45.8" height="104.6" fill="#fff" stroke="#b0b0b0" stroke-width="0.7"/>
<rect x="755.8" y="161.8" width="39.4" height="98.2" fill="#fff" stroke="#b0b0b0" stroke-width="0.7"/><rect x="764.30" y="174.10" width="4.2" height="4.2" fill="#fff" stroke="#c6c6c6" stroke-width="0.9"/><rect x="781.90" y="174.10" width="4.2" height="4.2" fill="#fff" stroke="#c6c6c6" stroke-width="0.9"/><rect x="764.30" y="190.70" width="4.2" height="4.2" fill="#fff" stroke="#c6c6c6" stroke-width="0.9"/><rect x="781.90" y="190.70" width="4.2" height="4.2" fill="#fff" stroke="#c6c6c6" stroke-width="0.9"/><rect x="764.30" y="207.70" width="4.2" height="4.2" fill="#fff" stroke="#c6c6c6" stroke-width="0.9"/><rect x="781.90" y="207.70" width="4.2" height="4.2" fill="#fff" stroke="#c6c6c6" stroke-width="0.9"/><rect x="764.30" y="224.90" width="4.2" height="4.2" fill="#fff" stroke="#c6c6c6" stroke-width="0.9"/><rect x="781.90" y="224.90" width="4.2" height="4.2" fill="#fff" stroke="#c6c6c6" stroke-width="0.9"/><rect x="764.30" y="242.90" width="4.2" height="4.2" fill="#fff" stroke="#c6c6c6" stroke-width="0.9"/><rect x="781.90" y="242.90" width="4.2" height="4.2" fill="#fff" stroke="#c6c6c6" stroke-width="0.9"/><rect x="757.8" y="201.8" width="17.2" height="33.2" fill="#231f20"/>
<rect x="757.8" y="238.2" width="35.8" height="13.8" fill="#231f20"/>
<rect x="699.2" y="208.8" width="59" height="3.2" fill="#231f20"/>
<rect x="699.2" y="226.2" width="65" height="3" fill="#808080"/>
<rect x="679.4" y="209.3" width="11.8" height="2.8" fill="#1c1c1c"/>
<path d="M679.4 227.2 h11.8 M685.3 221.4 v11.6" stroke="#1c1c1c" stroke-width="2.8" fill="none"/><rect x="764.20" y="207.60" width="4.4" height="4.4" fill="#fff"/><rect x="764.20" y="224.80" width="4.4" height="4.4" fill="#fff"/><rect x="764.20" y="242.80" width="4.4" height="4.4" fill="#fff"/><rect x="781.80" y="242.80" width="4.4" height="4.4" fill="#fff"/><text x="700.2" y="205.6" font-size="10.2" font-family="Liberation Sans, sans-serif" font-weight="bold" font-style="italic" fill="#1c1c1c" stroke="#1c1c1c" stroke-width="0.5" textLength="34" lengthAdjust="spacingAndGlyphs">Black</text>
<text x="700.2" y="239.9" font-size="10" font-family="Liberation Sans, sans-serif" font-weight="bold" font-style="italic" fill="#1c1c1c" stroke="#1c1c1c" stroke-width="0.5" textLength="24" lengthAdjust="spacingAndGlyphs">Red</text></g>
<!--DIAGRAM2-->
<g id="d2" font-family="Liberation Sans, sans-serif" opacity="0.999"><use href="#strip" transform="translate(491.2,537.5) scale(1.035) translate(-486,-28.8)"/><rect x="774.8" y="674.4" width="47" height="108.8" fill="#fff" stroke="#b0b0b0" stroke-width="0.7"/>
<rect x="778" y="677.6" width="40.6" height="102.4" fill="#fff" stroke="#b0b0b0" stroke-width="0.7"/><rect x="787.70" y="690.50" width="4.2" height="4.2" fill="#fff" stroke="#c6c6c6" stroke-width="0.9"/><rect x="806.30" y="690.50" width="4.2" height="4.2" fill="#fff" stroke="#c6c6c6" stroke-width="0.9"/><rect x="787.70" y="708.50" width="4.2" height="4.2" fill="#fff" stroke="#c6c6c6" stroke-width="0.9"/><rect x="806.30" y="708.50" width="4.2" height="4.2" fill="#fff" stroke="#c6c6c6" stroke-width="0.9"/><rect x="787.70" y="726.40" width="4.2" height="4.2" fill="#fff" stroke="#c6c6c6" stroke-width="0.9"/><rect x="806.30" y="726.40" width="4.2" height="4.2" fill="#fff" stroke="#c6c6c6" stroke-width="0.9"/><rect x="787.70" y="744.30" width="4.2" height="4.2" fill="#fff" stroke="#c6c6c6" stroke-width="0.9"/><rect x="806.30" y="744.30" width="4.2" height="4.2" fill="#fff" stroke="#c6c6c6" stroke-width="0.9"/><rect x="787.70" y="762.20" width="4.2" height="4.2" fill="#fff" stroke="#c6c6c6" stroke-width="0.9"/><rect x="806.30" y="762.20" width="4.2" height="4.2" fill="#fff" stroke="#c6c6c6" stroke-width="0.9"/><rect x="780.6" y="720.8" width="16.6" height="15" fill="#231f20"/>
<rect x="780.6" y="739" width="36.8" height="15.4" fill="#231f20"/>
<rect x="780.6" y="757" width="16.6" height="15" fill="#231f20"/>
<rect x="719.8" y="727" width="61" height="3.1" fill="#231f20"/>
<rect x="719.8" y="762.8" width="61" height="3" fill="#808080"/>
<rect x="699" y="727.4" width="11.8" height="2.8" fill="#1c1c1c"/>
<path d="M699 764.2 h11.8 M704.9 758.4 v11.6" stroke="#1c1c1c" stroke-width="2.8" fill="none"/><rect x="787.50" y="726.20" width="4.6" height="4.6" fill="#fff"/><rect x="787.50" y="744.10" width="4.6" height="4.6" fill="#fff"/><rect x="806.10" y="744.10" width="4.6" height="4.6" fill="#fff"/><rect x="787.50" y="762.00" width="4.6" height="4.6" fill="#fff"/><text x="720.4" y="723" font-size="10.2" font-family="Liberation Sans, sans-serif" font-weight="bold" font-style="italic" fill="#1c1c1c" stroke="#1c1c1c" stroke-width="0.5" textLength="35.2" lengthAdjust="spacingAndGlyphs">Black</text>
<text x="720.4" y="776.2" font-size="10" font-family="Liberation Sans, sans-serif" font-weight="bold" font-style="italic" fill="#1c1c1c" stroke="#1c1c1c" stroke-width="0.5" textLength="24.6" lengthAdjust="spacingAndGlyphs">Red</text></g>
</svg>

<div class="box" style="left:462.5px;top:390px;width:498px;height:118px;">
<div class="zh" style="top:3px;">0-5V<b>模拟信号控制输出电压</b>(0.5V~nV)</div>
<div class="en" style="top:27.5px;">0-5V Analog Signal Control Output Voltage (0.5V ~ nV)</div>
<div class="en" style="top:50px;">Voltaje de salida (0.5V~nV) controlado por señal analógica 0-5V</div>
<div class="en" style="top:72.3px;">0-5 В аналоговый сигнал управления выходным напряжением (0.5 ~ нВ)</div>
<div class="ko" style="top:95px;"><i>0－5V</i> 아날로그 신호 출력 전압<i>(0.5~nV)</i> 컨트롤</div>
</div>

<div class="box" style="left:466.5px;top:929px;width:494px;height:118px;">
<div class="zh" style="top:3px;">0-5V<b>模拟信号控制输出电流</b>(10%~nA)</div>
<div class="en" style="left:4.2px;letter-spacing:0.22px;top:27.5px;">0-5V Analog Signal Control Output Current (10% ~ nA)</div>
<div class="en" style="left:4.2px;letter-spacing:0.22px;top:50px;">Corriente de salida (10%~nA) controlado por señal analógica 0-5V</div>
<div class="en" style="left:4.2px;letter-spacing:0.22px;top:72.3px;">0-5 В аналоговый сигнал управления выходным током (10% ~ нА)</div>
<div class="ko" style="top:95px;"><i>0-5V</i> 아날로그 신호 출력 전류<i>(10%~nA)</i> 컨트롤</div>
</div>
</body>
</html>
